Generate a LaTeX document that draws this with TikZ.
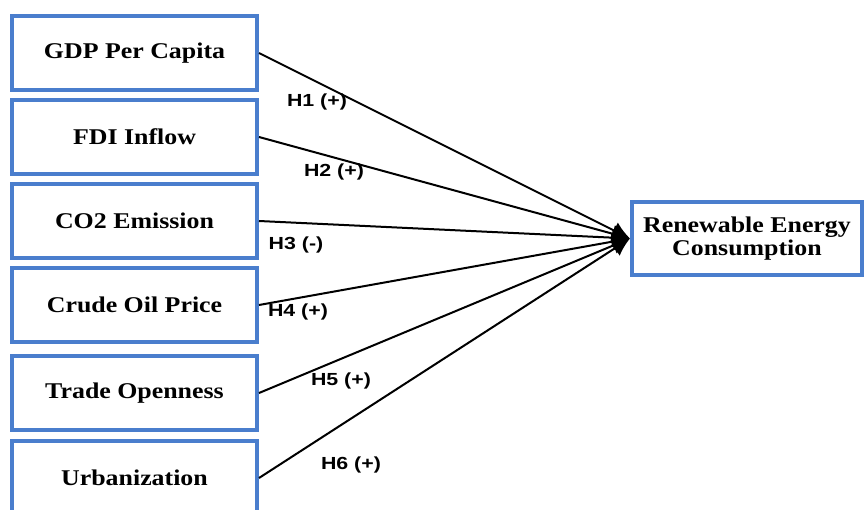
\documentclass[tikz,border=0pt]{standalone}
\usepackage{fontspec}
\usetikzlibrary{arrows.meta}
\newfontfamily\boxfont[FakeStretch=1.15]{Liberation Serif}
\newfontfamily\labfont[FakeStretch=1.22]{Liberation Sans}
\definecolor{boxblue}{RGB}{74,126,205}
\tikzset{
  varbox/.style={draw=boxblue, line width=4pt, fill=white, minimum width=245pt, minimum height=74pt, inner sep=0pt, align=center, font=\boxfont\bfseries\fontsize{22.5}{24}\selectfont},
  hlabel/.style={inner sep=0pt, font=\labfont\bfseries\fontsize{17.5}{19}\selectfont},
  link/.style={line width=2pt, -{Latex[length=18pt,width=18pt]}}
}
\begin{document}
\begin{tikzpicture}[x=1pt,y=-1pt]
\useasboundingbox (0,0) rectangle (865,510);
\node[varbox] (gdp) at (134.5,53) {GDP Per Capita};
\node[varbox] (fdi) at (134.5,137) {FDI Inflow};
\node[varbox] (co2) at (134.5,221) {CO2 Emission};
\node[varbox] (oil) at (134.5,305) {Crude Oil Price};
\node[varbox] (trade) at (134.5,393) {Trade Openness};
\node[varbox] (urb) at (134.5,478) {Urbanization};
\node[varbox, minimum width=230pt, minimum height=73pt, font=\boxfont\bfseries\fontsize{22.5}{23.5}\selectfont] (rec) at (747,238.5) {Renewable Energy\\Consumption};
\coordinate (tip) at (rec.west);
\draw[link] (gdp.east) -- (tip);
\draw[link] (fdi.east) -- (tip);
\draw[link] (co2.east) -- (tip);
\draw[link] (oil.east) -- (tip);
\draw[link] (trade.east) -- (tip);
\draw[link] (urb.east) -- (tip);
\node[hlabel] (h1) at (317,102) {H1 (+)};
\node[hlabel] (h2) at (334,172) {H2 (+)};
\node[hlabel] (h3) at (296,245) {H3 (-)};
\node[hlabel] (h4) at (298,312) {H4 (+)};
\node[hlabel] (h5) at (341,381) {H5 (+)};
\node[hlabel] (h6) at (351,465) {H6 (+)};
\end{tikzpicture}
\end{document}
